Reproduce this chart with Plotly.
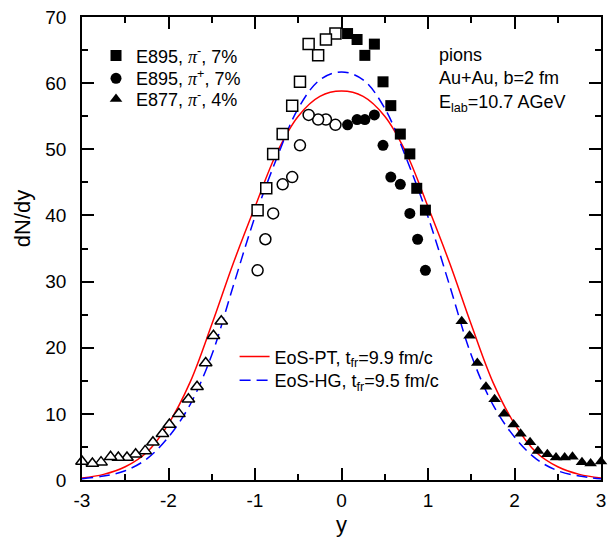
import plotly.graph_objects as go

# ---------------- data ----------------
# E895 pi- (measured, filled squares); reflected points drawn open at -y
e895_pim_y = [0.07, 0.18, 0.27, 0.38, 0.48, 0.57, 0.68, 0.79, 0.87, 0.97]
e895_pim_dndy = [67.5, 66.6, 64.2, 65.9, 60.2, 56.6, 52.3, 49.3, 44.1, 40.8]

# E895 pi+ (measured, filled circles)
e895_pip_y = [0.07, 0.18, 0.27, 0.38, 0.48, 0.57, 0.68, 0.79, 0.88, 0.97]
e895_pip_dndy = [53.7, 54.5, 54.5, 55.2, 50.6, 45.8, 44.7, 40.3, 36.4, 31.7]

# E877 pi- (measured, filled triangles)
e877_y = [1.39, 1.48, 1.57, 1.67, 1.77, 1.88, 1.99, 2.07, 2.18, 2.27,
          2.38, 2.48, 2.58, 2.67, 2.78, 2.88, 3.0]
e877_dndy = [24.0, 21.8, 17.7, 14.1, 12.2, 10.0, 8.4, 7.0, 5.7, 4.4,
             3.9, 3.4, 3.4, 3.5, 2.7, 2.5, 2.8]

# model curves
model_y = [-3.0, -2.75, -2.5, -2.25, -2.0, -1.75, -1.5, -1.25, -1.0, -0.75, -0.5, -0.25,
           0.0, 0.25, 0.5, 0.75, 1.0, 1.25, 1.5, 1.75, 2.0, 2.25, 2.5, 2.75, 3.0]
eos_pt = [0.3, 0.85, 2.0, 4.2, 8.5, 14.8, 23.5, 32.8, 41.3, 49.4, 55.0, 58.0,
          58.8, 58.0, 55.0, 49.4, 41.3, 32.8, 23.5, 14.8, 8.5, 4.2, 2.0, 0.85, 0.3]
eos_hg = [0.2, 0.6, 1.4, 3.2, 6.5, 11.4, 18.9, 29.4, 39.8, 48.6, 56.2, 60.5,
          61.7, 60.5, 56.2, 48.6, 39.8, 29.4, 18.9, 11.4, 6.5, 3.2, 1.4, 0.6, 0.2]

x_ticks = [-3, -2, -1, 0, 1, 2, 3]
y_ticks = [0, 10, 20, 30, 40, 50, 60, 70]

FONT = "Liberation Sans, Arial, sans-serif"
PI = "<span style='font-family:Liberation Serif, Times New Roman, serif'><i>π</i></span>"

fig = go.Figure()

# curves
fig.add_trace(go.Scatter(x=model_y, y=eos_pt, mode="lines", line=dict(color="#ff0000", width=1.5, shape="spline"),
                         name="EoS-PT, t<sub>fr</sub>=9.9 fm/c", legend="legend4"))
fig.add_trace(go.Scatter(x=model_y, y=eos_hg, mode="lines",
                         line=dict(color="#0000ff", width=1.5, shape="spline", dash="11px,6px"),
                         name="EoS-HG, t<sub>fr</sub>=9.5 fm/c", legend="legend5"))

open_style = dict(color="white", line=dict(color="black", width=1.5))
# reflected (open) points
fig.add_trace(go.Scatter(x=[-v for v in e895_pim_y], y=e895_pim_dndy, mode="markers", showlegend=False,
                         marker=dict(symbol="square", size=11, **open_style), cliponaxis=False))
fig.add_trace(go.Scatter(x=[-v for v in e895_pip_y], y=e895_pip_dndy, mode="markers", showlegend=False,
                         marker=dict(symbol="circle", size=11, **open_style), cliponaxis=False))
fig.add_trace(go.Scatter(x=[-v for v in e877_y], y=e877_dndy, mode="markers", showlegend=False,
                         marker=dict(symbol="triangle-up", size=11, **open_style), cliponaxis=False))

# measured (filled) points
fig.add_trace(go.Scatter(x=e895_pim_y, y=e895_pim_dndy, mode="markers", name="E895, " + PI + "<sup>-</sup>, 7%",
                         marker=dict(symbol="square", size=11, color="black"), cliponaxis=False, legend="legend"))
fig.add_trace(go.Scatter(x=e895_pip_y, y=e895_pip_dndy, mode="markers", name="E895, " + PI + "<sup>+</sup>, 7%",
                         marker=dict(symbol="circle", size=11, color="black"), cliponaxis=False, legend="legend2"))
fig.add_trace(go.Scatter(x=e877_y, y=e877_dndy, mode="markers", name="E877, " + PI + "<sup>-</sup>, 4%",
                         marker=dict(symbol="triangle-up", size=11, color="black"), cliponaxis=False, legend="legend3"))

axis_common = dict(showline=True, linecolor="black", linewidth=1.5, mirror="ticks", ticks="inside",
                   ticklen=12, tickwidth=1.5, tickcolor="black", showgrid=False, zeroline=False,
                   ticklabeloverflow="allow",
                   tickfont=dict(family=FONT, size=19, color="black"))

fig.update_xaxes(range=[-3, 3], tickvals=x_ticks, ticktext=[str(v) for v in x_ticks],
                 minor=dict(dtick=0.5, ticks="inside", ticklen=6, tickwidth=1.5, tickcolor="black"),
                 title=dict(text="y", font=dict(family=FONT, size=22, color="black"), standoff=7),
                 ticklabelstandoff=2, **axis_common)
fig.update_yaxes(range=[0, 70], tickvals=y_ticks, ticktext=[str(v) for v in y_ticks],
                 minor=dict(dtick=5, ticks="inside", ticklen=6, tickwidth=1.5, tickcolor="black"),
                 ticklabelstandoff=10, **axis_common)


def leg(x, y):
    return dict(x=x, y=y, xanchor="left", yanchor="middle", bgcolor="rgba(0,0,0,0)",
                font=dict(family=FONT, size=18, color="black"), itemsizing="trace")


fig.update_layout(
    width=613, height=542,
    margin=dict(l=82, r=7, t=14, b=62),
    paper_bgcolor="white", plot_bgcolor="white",
    font=dict(family=FONT, size=18, color="black"),
    legend=leg(0.027, 0.916),
    legend2=leg(0.027, 0.867),
    legend3=leg(0.027, 0.822),
    legend4=leg(0.294, 0.266),
    legend5=leg(0.294, 0.215),
    annotations=[
        dict(text="pions<br>Au+Au, b=2 fm<br>E<sub>lab</sub>=10.7 AGeV", xref="paper", yref="paper",
             x=0.684, y=0.944, xanchor="left", yanchor="top", align="left", showarrow=False,
             font=dict(family=FONT, size=18, color="black")),
        dict(text="dN/dy", xref="paper", yref="paper", x=-0.113, y=0.564, textangle=-90,
             xanchor="center", yanchor="middle", showarrow=False,
             font=dict(family=FONT, size=22, color="black")),
    ],
)

fig.write_html("out.html", config={"displayModeBar": False},
               post_script="document.body.style.margin='0';document.body.style.overflow='hidden';")
